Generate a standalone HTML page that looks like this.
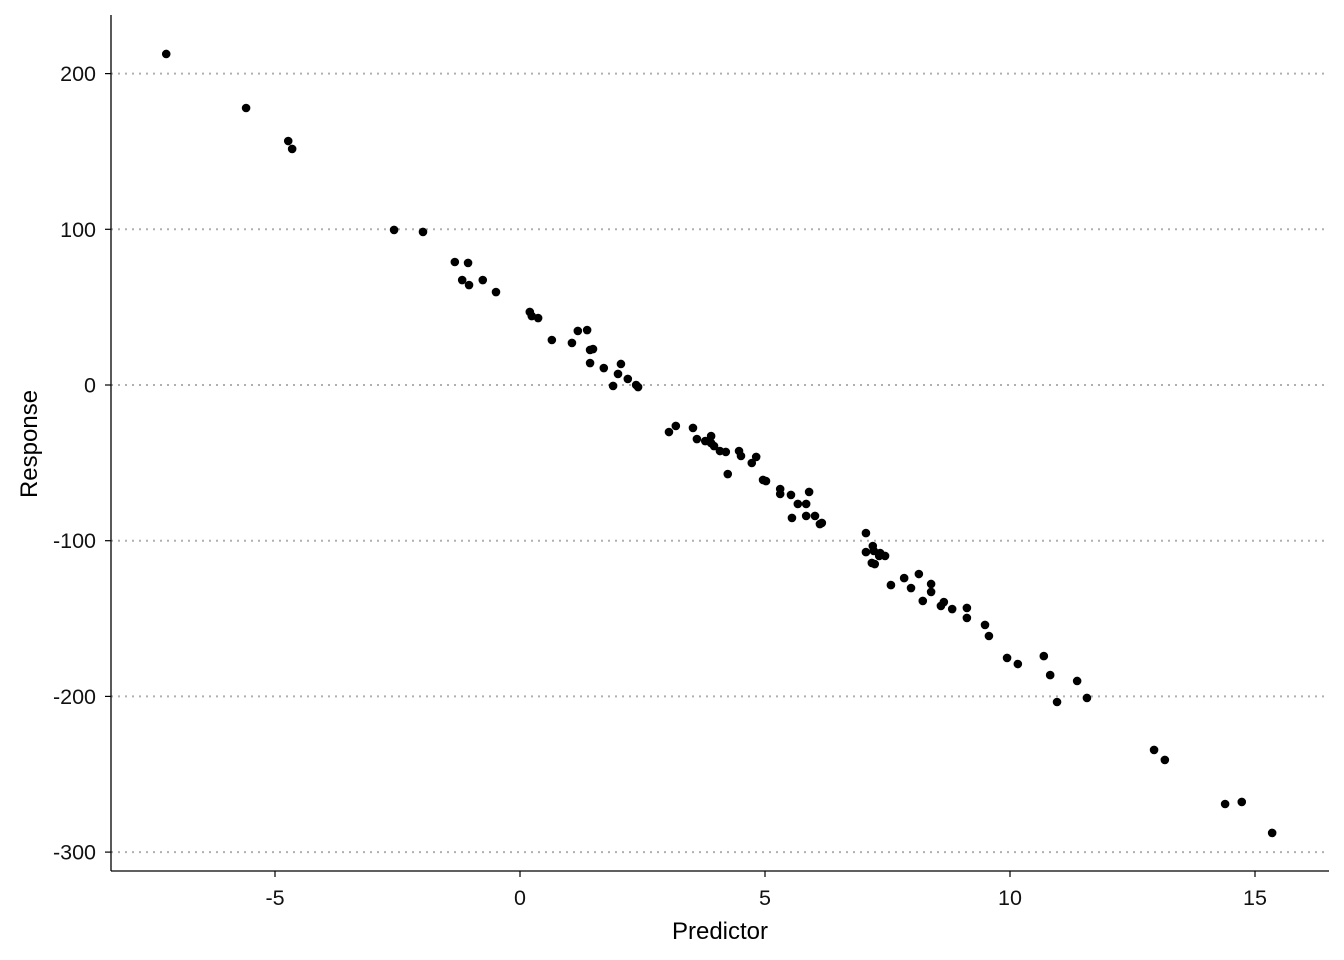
<!DOCTYPE html>
<html><head><meta charset="utf-8"><style>
html,body{margin:0;padding:0;background:#fff;}
svg{display:block;font-family:"Liberation Sans",Arial,sans-serif;}
</style></head><body>
<svg id="chart" width="1344" height="960"></svg>
<script>
const xs=[-7.22,-5.59,-4.73,-4.65,-2.57,-1.98,-1.33,-1.06,-1.18,-1.04,-0.76,-0.49,0.20,0.24,0.37,0.65,1.06,1.18,1.37,1.43,1.49,1.43,1.71,2.06,2.00,1.90,2.20,2.37,2.41,3.04,3.18,3.53,3.61,3.78,3.90,3.90,3.96,4.08,4.20,4.24,4.47,4.51,4.73,4.82,4.96,5.02,5.31,5.31,5.53,5.67,5.55,5.84,5.84,5.90,6.02,6.12,6.16,7.06,7.06,7.20,7.22,7.24,7.33,7.35,7.18,7.45,7.57,7.84,7.98,8.14,8.22,8.39,8.39,8.59,8.65,8.82,9.12,9.12,9.49,9.57,9.94,10.16,10.69,10.82,10.96,11.37,11.57,12.94,13.16,14.39,14.73,15.35];
const ys=[212.6,177.9,156.7,151.6,99.6,98.3,79.0,78.4,67.4,64.2,67.4,59.7,46.9,44.3,43.0,28.9,27.0,34.7,35.3,22.5,23.1,14.1,10.9,13.5,7.1,-0.6,3.9,0,-1.3,-30.2,-26.3,-27.6,-34.7,-36.0,-32.8,-37.3,-39.2,-42.4,-43.0,-57.2,-42.4,-45.6,-50.1,-46.2,-61.0,-61.7,-66.8,-70.0,-70.6,-76.4,-85.4,-76.4,-84.1,-68.7,-84.1,-89.3,-88.6,-95.1,-107.3,-103.4,-106.6,-115.0,-109.8,-107.9,-114.3,-109.8,-128.5,-124.0,-130.4,-121.4,-138.7,-127.8,-132.9,-141.9,-139.4,-143.9,-143.2,-149.6,-154.1,-161.2,-175.3,-179.2,-174.1,-186.3,-203.6,-190.1,-201.0,-234.4,-240.8,-269.1,-267.8,-287.7];
const xTicks=[-5,0,5,10,15];
const yTicks=[200,100,0,-100,-200,-300];
const xTickLabels=["-5","0","5","10","15"];
const yTickLabels=["200","100","0","-100","-200","-300"];

const svg=document.getElementById('chart');
const NS='http://www.w3.org/2000/svg';
const L=111,R=1329,T=15,B=871;
function sx(v){return 520+v*49;}
function sy(v){return 385-v*1.557;}
function mk(tag,attrs){const e=document.createElementNS(NS,tag);for(const k in attrs)e.setAttribute(k,attrs[k]);svg.appendChild(e);return e;}

yTicks.forEach((t,i)=>{
  const g=mk('line',{x1:L,x2:R,y1:sy(t),y2:sy(t),stroke:'#b0b0b0','stroke-width':2,'stroke-dasharray':'2,5'});
  
  
  const tk=mk('line',{x1:L-6,x2:L,y1:sy(t),y2:sy(t),stroke:'#000','stroke-width':1.2});
  
  
  const lb=mk('text',{x:L-15,y:sy(t)+7.5,'text-anchor':'end','font-size':21.5,fill:'#111'});
  lb.textContent=yTickLabels[i];
  
  
});
xTicks.forEach((t,i)=>{
  const tk=mk('line',{x1:sx(t),x2:sx(t),y1:B,y2:B+6,stroke:'#000','stroke-width':1.2});
  
  
  const lb=mk('text',{x:sx(t),y:B+34,'text-anchor':'middle','font-size':21.5,fill:'#111'});
  lb.textContent=xTickLabels[i];
  
  
});
const ya=mk('line',{x1:L,x2:L,y1:T,y2:B,stroke:'#000','stroke-width':1.3});


const xa=mk('line',{x1:L,x2:R,y1:B,y2:B,stroke:'#000','stroke-width':1.3});



xs.forEach((x,i)=>{
  const c=mk('circle',{cx:sx(x),cy:sy(ys[i]),r:4.3,fill:'#000'});
  
  
});

const xt=mk('text',{x:720,y:939,'text-anchor':'middle','font-size':24,fill:'#000'});
xt.textContent='Predictor';


const yt=mk('text',{x:0,y:0,'text-anchor':'middle','font-size':24,fill:'#000',transform:'translate(37,444) rotate(-90)'});
yt.textContent='Response';


</script>
</body></html>
